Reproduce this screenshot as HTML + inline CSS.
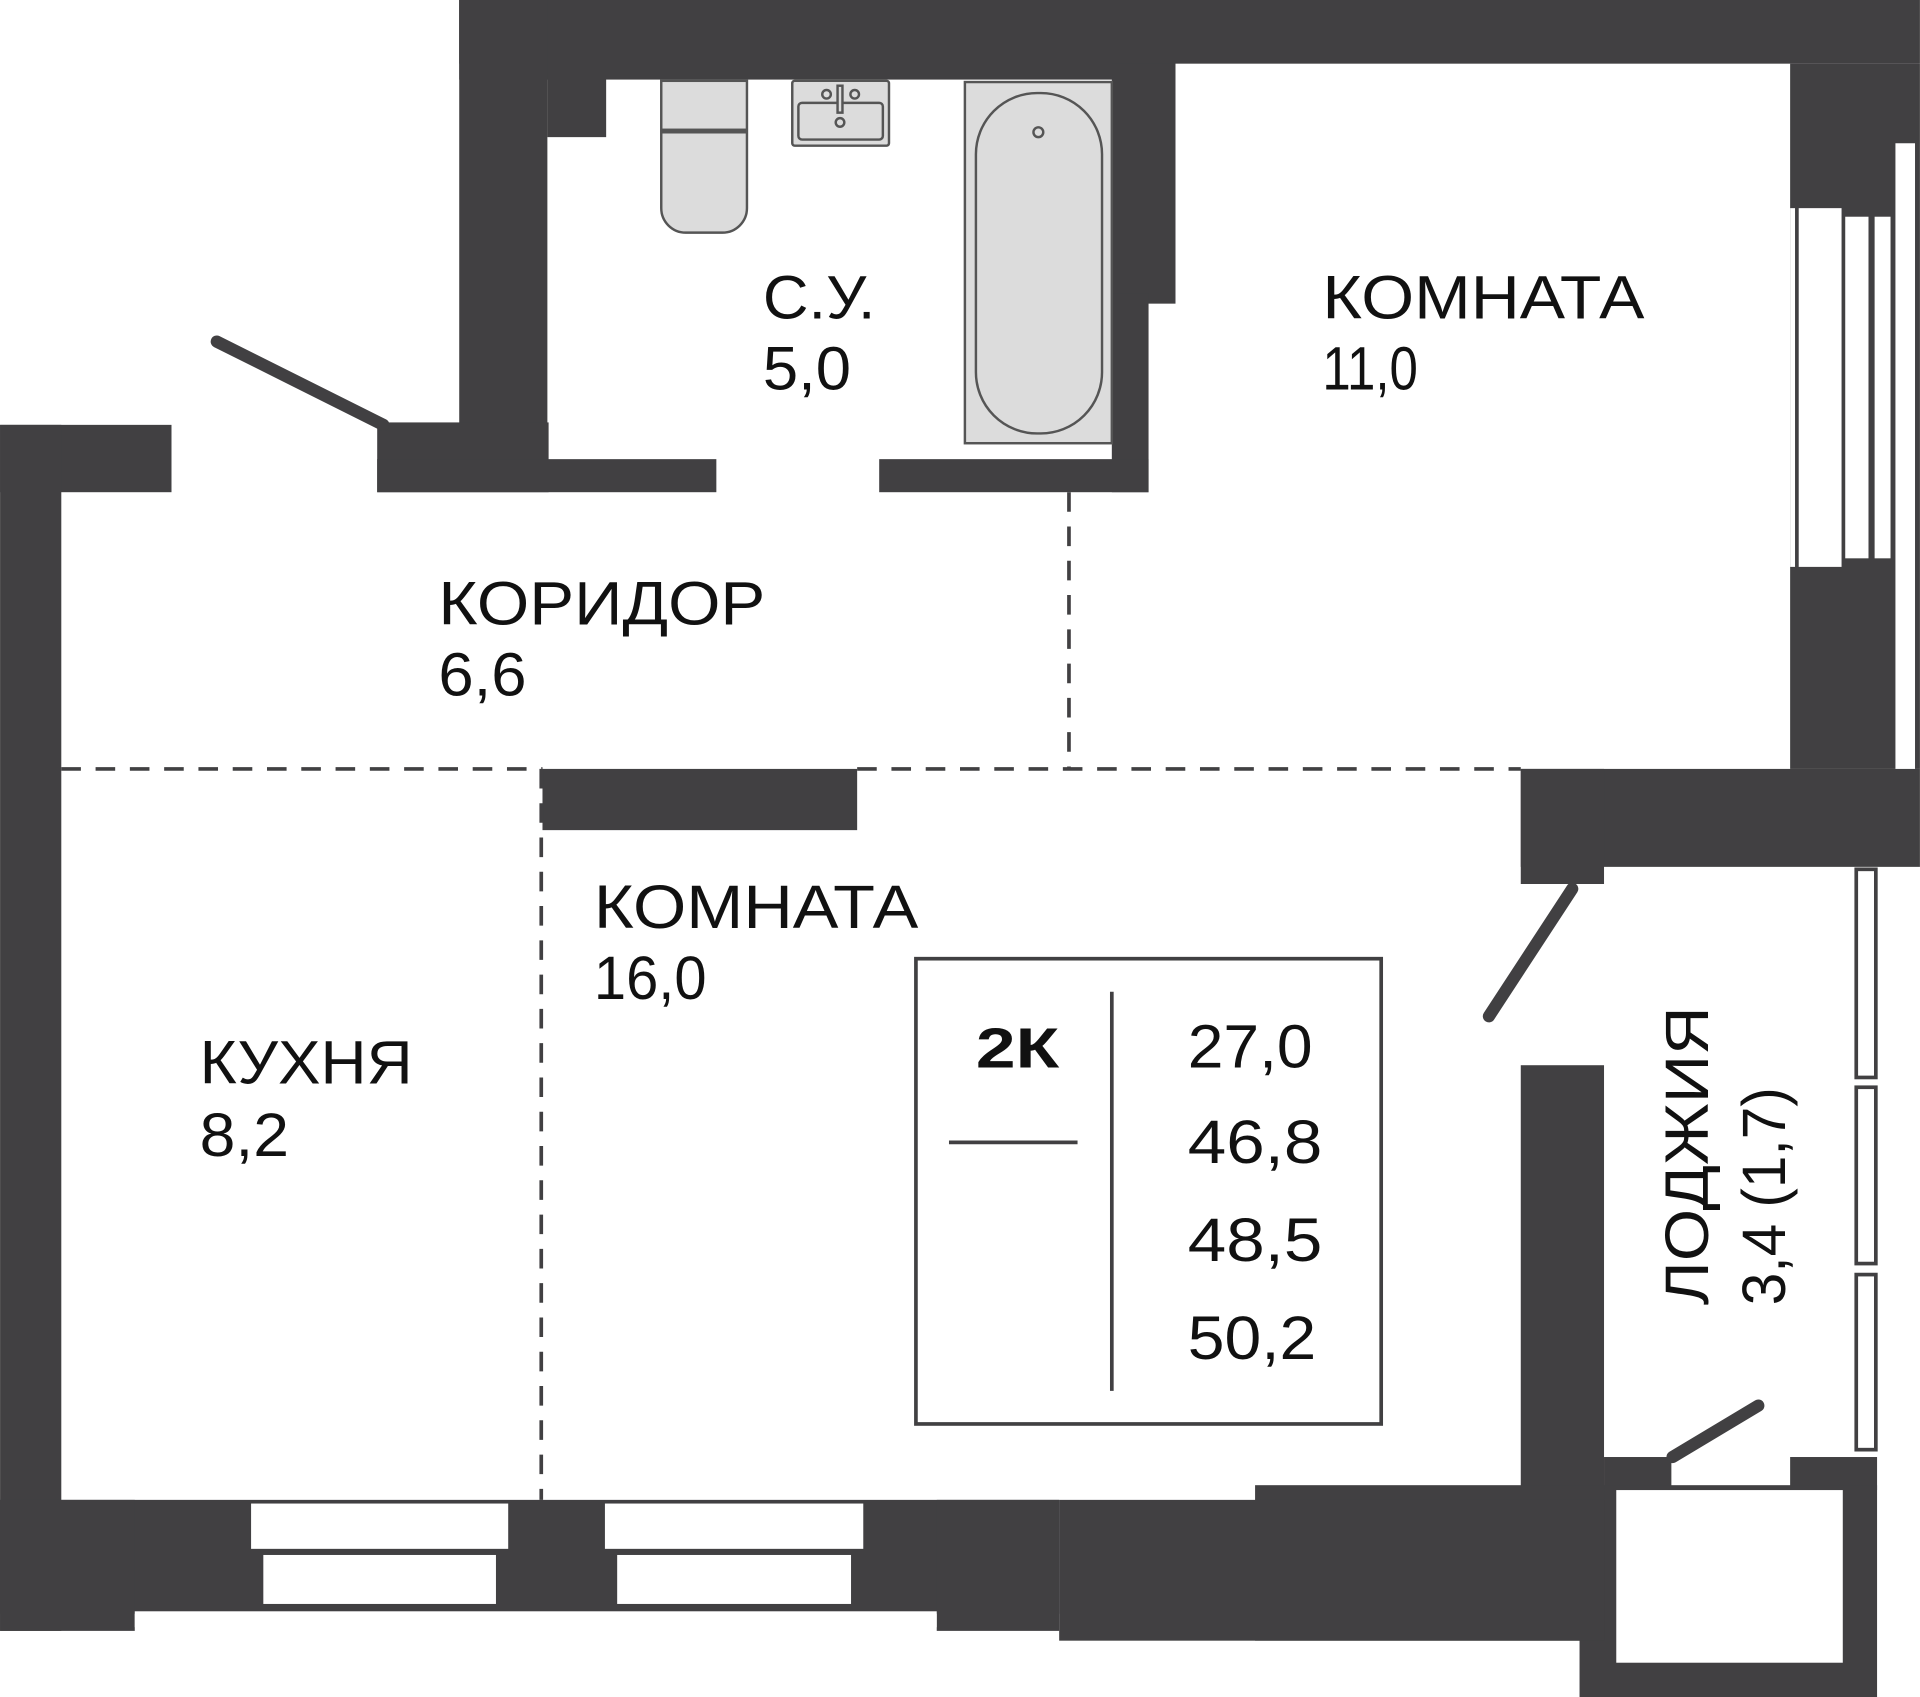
<!DOCTYPE html>
<html><head><meta charset="utf-8"><style>
html,body{margin:0;padding:0;background:#fff;}
svg{display:block;}
text{font-family:"Liberation Sans",sans-serif;fill:#111;}
</style></head><body>
<svg width="1920" height="1697" viewBox="0 0 1568 1386" xmlns="http://www.w3.org/2000/svg">
<g fill="#414042">
<rect x="375" y="0" width="1193" height="52"/>
<rect x="375" y="0" width="585" height="65"/>
<rect x="375" y="0" width="72" height="400"/>
<rect x="447" y="60" width="48" height="52"/>
<rect x="908" y="52" width="52" height="196"/>
<rect x="908" y="240" width="30" height="162"/>
<rect x="308" y="345" width="140" height="57"/>
<rect x="308" y="375" width="277" height="27"/>
<rect x="718" y="375" width="220" height="27"/>
<rect x="0" y="347" width="140" height="55"/>
<rect x="0" y="347" width="50" height="985"/>
<rect x="1462" y="52" width="106" height="576"/>
<rect x="1242" y="628" width="326" height="80"/>
<rect x="1242" y="628" width="68" height="94"/>
<rect x="1242" y="870" width="68" height="355"/>
<rect x="1310" y="1190" width="55" height="27"/>
<rect x="1462" y="1190" width="71" height="27"/>
<rect x="1290" y="1213" width="243" height="173"/>
<rect x="1025" y="1213" width="285" height="127"/>
<rect x="865" y="1225" width="445" height="115"/>
<rect x="0" y="1225" width="865" height="93"/>
<rect x="0" y="1225" width="110" height="107"/>
<rect x="765" y="1225" width="100" height="107"/>
<rect x="443" y="628" width="257" height="50"/>
</g>
<g fill="#fff">
<rect x="1462" y="170" width="4" height="293"/>
<rect x="1469" y="170" width="35" height="293"/>
<rect x="1507" y="177" width="19" height="279"/>
<rect x="1531" y="177" width="13" height="279"/>
<rect x="1548" y="117" width="16" height="511"/>
<rect x="1320" y="1217" width="185" height="141"/>
<rect x="110" y="1316" width="655" height="13"/>
<rect x="205" y="1228" width="210" height="37"/>
<rect x="215" y="1270" width="190" height="40"/>
<rect x="494" y="1228" width="211" height="37"/>
<rect x="504" y="1270" width="191" height="40"/>
</g>
<g fill="none" stroke="#414042" stroke-width="3">
<rect x="1516" y="710" width="16" height="170"/>
<rect x="1516" y="888" width="16" height="144"/>
<rect x="1516" y="1041" width="16" height="143"/>
</g>
<g stroke="#414042" stroke-width="3" stroke-dasharray="16,12" fill="none">
<line x1="50" y1="628" x2="443" y2="628"/>
<line x1="700" y1="628" x2="1242" y2="628"/>
<line x1="873" y1="402" x2="873" y2="628"/>
<line x1="442" y1="628" x2="442" y2="1225"/>
</g>
<g stroke="#414042" stroke-width="10" stroke-linecap="round">
<line x1="177" y1="279" x2="313" y2="347"/>
<line x1="1216" y1="830" x2="1284" y2="726"/>
<line x1="1366" y1="1190" x2="1436" y2="1148"/>
</g>
<g fill="#dcdcdc" stroke="#555" stroke-width="2">
<rect x="540" y="66" width="70" height="40"/>
<path d="M540 108 h70 v62 a20 20 0 0 1 -20 20 h-30 a20 20 0 0 1 -20 -20 z"/>
<rect x="647" y="66" width="79" height="53" rx="2"/>
<rect x="652" y="84" width="69" height="30" rx="3"/>
<rect x="788" y="67" width="120" height="295"/>
<rect x="797" y="76" width="103" height="278" rx="50"/>
<circle cx="848" cy="108" r="4"/>
<circle cx="675" cy="77" r="3.5"/>
<circle cx="698" cy="77" r="3.5"/>
<circle cx="686" cy="100" r="3.5"/>
<rect x="684" y="70" width="4" height="22"/>
</g>
<g font-size="50">
<text x="623" y="260" textLength="92" lengthAdjust="spacingAndGlyphs">С.У.</text>
<text x="623" y="318" textLength="72" lengthAdjust="spacingAndGlyphs">5,0</text>
<text x="1080" y="260" textLength="263" lengthAdjust="spacingAndGlyphs">КОМНАТА</text>
<text x="1080" y="318" textLength="78" lengthAdjust="spacingAndGlyphs">11,0</text>
<text x="358" y="510" textLength="267" lengthAdjust="spacingAndGlyphs">КОРИДОР</text>
<text x="358" y="568" textLength="72" lengthAdjust="spacingAndGlyphs">6,6</text>
<text x="485" y="758" textLength="265" lengthAdjust="spacingAndGlyphs">КОМНАТА</text>
<text x="485" y="816" textLength="92" lengthAdjust="spacingAndGlyphs">16,0</text>
<text x="163" y="885" textLength="174" lengthAdjust="spacingAndGlyphs">КУХНЯ</text>
<text x="163" y="944" textLength="73" lengthAdjust="spacingAndGlyphs">8,2</text>
<text transform="translate(1395,1066) rotate(-90)" textLength="244" lengthAdjust="spacingAndGlyphs">ЛОДЖИЯ</text>
<text transform="translate(1458,1066) rotate(-90)" textLength="178" lengthAdjust="spacingAndGlyphs">3,4 (1,7)</text>
</g>
<rect x="748" y="783" width="380" height="380" fill="none" stroke="#414042" stroke-width="3"/>
<line x1="908" y1="810" x2="908" y2="1136" stroke="#414042" stroke-width="3"/>
<line x1="775" y1="933" x2="880" y2="933" stroke="#414042" stroke-width="3"/>
<text x="797" y="872" font-size="46" font-weight="bold" textLength="68" lengthAdjust="spacingAndGlyphs">2К</text>
<g font-size="50">
<text x="970" y="872" textLength="102" lengthAdjust="spacingAndGlyphs">27,0</text>
<text x="970" y="950" textLength="110" lengthAdjust="spacingAndGlyphs">46,8</text>
<text x="970" y="1030" textLength="110" lengthAdjust="spacingAndGlyphs">48,5</text>
<text x="970" y="1110" textLength="105" lengthAdjust="spacingAndGlyphs">50,2</text>
</g>
</svg>
</body></html>
